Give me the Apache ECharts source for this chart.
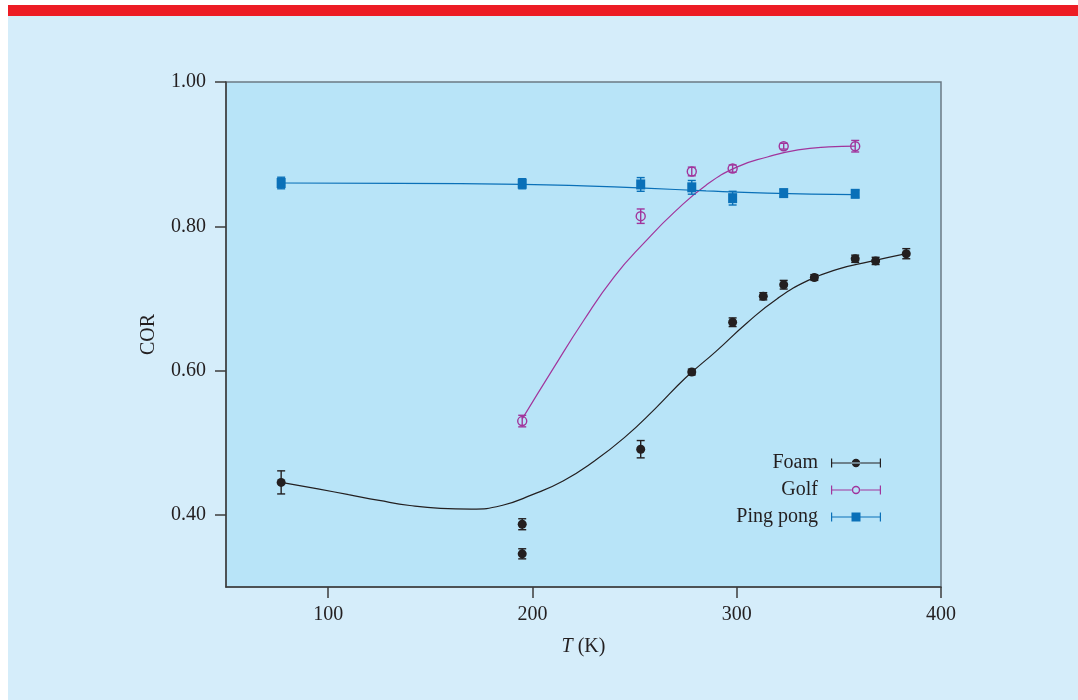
<!DOCTYPE html>
<html>
<head>
<meta charset="utf-8">
<script src="https://cdn.jsdelivr.net/npm/echarts@6/dist/echarts.min.js"></script>
<style>
html,body{margin:0;padding:0;background:#ffffff;}
#chart{width:1078px;height:700px;}
</style>
</head>
<body>
<div id="chart"></div>
<script>
// ---- data ----
var xTicks = [100, 200, 300, 400];
var yTicks = [0.40, 0.60, 0.80, 1.00];

var foamT   = [77, 195, 195, 253, 278, 298, 313, 323, 338, 358, 368, 383];
var foamCOR = [0.445, 0.387, 0.346, 0.491, 0.598, 0.667, 0.703, 0.719, 0.729, 0.755, 0.752, 0.762];
var foamErr = [0.016, 0.0076, 0.007, 0.012, 0.004, 0.006, 0.005, 0.006, 0.004, 0.005, 0.005, 0.007];

var golfT   = [195, 253, 278, 298, 323, 358];
var golfCOR = [0.530, 0.814, 0.876, 0.880, 0.911, 0.911];
var golfErr = [0.008, 0.010, 0.006, 0.005, 0.004, 0.008];

var ppT   = [77, 195, 253, 278, 298, 323, 358];
var ppCOR = [0.860, 0.859, 0.858, 0.854, 0.839, 0.846, 0.845];
var ppErr = [0.008, 0.007, 0.0095, 0.0095, 0.0095, 0.005, 0.005];

// fitted curves
var foamFitT = [77, 95, 110, 125, 140, 155, 170, 185, 200, 215, 230, 245, 260, 275, 290, 305, 320, 335, 350, 365, 383];
var foamFitV = [0.445, 0.436, 0.428, 0.420, 0.413, 0.409, 0.408, 0.413, 0.428, 0.447, 0.474, 0.507, 0.547, 0.590, 0.627, 0.666, 0.700, 0.725, 0.741, 0.751, 0.762];
var golfFitT = [195, 210, 225, 240, 255, 270, 285, 300, 315, 330, 345, 358];
var golfFitV = [0.533, 0.602, 0.669, 0.730, 0.778, 0.821, 0.857, 0.882, 0.896, 0.906, 0.910, 0.911];
var ppFitT = [77, 135, 195, 225, 255, 285, 315, 358];
var ppFitV = [0.860, 0.8595, 0.858, 0.856, 0.853, 0.849, 0.846, 0.844];

var names = ['Foam', 'Golf', 'Ping pong'];
var colors = {Foam: '#231f20', Golf: '#a1359c', 'Ping pong': '#0a70b8'};

function pairs(a, b) { return a.map(function (v, i) { return [v, b[i]]; }); }
function errData(t, v, e) { return t.map(function (x, i) { return [x, v[i] - e[i], v[i] + e[i]]; }); }

function errRender(color) {
  return function (params, api) {
    var lo = api.coord([api.value(0), api.value(1)]);
    var hi = api.coord([api.value(0), api.value(2)]);
    var hw = 4;
    var st = {stroke: color, lineWidth: 1.4};
    return {
      type: 'group',
      children: [
        {type: 'line', shape: {x1: lo[0], y1: lo[1], x2: hi[0], y2: hi[1]}, style: st},
        {type: 'line', shape: {x1: lo[0] - hw, y1: lo[1], x2: lo[0] + hw, y2: lo[1]}, style: st},
        {type: 'line', shape: {x1: hi[0] - hw, y1: hi[1], x2: hi[0] + hw, y2: hi[1]}, style: st}
      ]
    };
  };
}

var FONT = 'Liberation Serif';
var TXT = '#231f20';

var foamIcon = 'path://M0,4.4h50v1.2h-50z M0,0.5h1.2v9h-1.2z M48.8,0.5h1.2v9h-1.2z M20.8,5a4.2,4.2 0 1,0 8.4,0a4.2,4.2 0 1,0 -8.4,0z';
var golfIcon = 'path://M0,4.4h21v1.2h-21z M29,4.4h21v1.2h-21z M0,0.5h1.2v9h-1.2z M48.8,0.5h1.2v9h-1.2z M20.8,5a4.2,4.2 0 1,0 8.4,0a4.2,4.2 0 1,0 -8.4,0z M22.2,5a2.8,2.8 0 1,1 5.6,0a2.8,2.8 0 1,1 -5.6,0z';
var ppIcon = 'path://M0,4.4h50v1.2h-50z M0,0.5h1.2v9h-1.2z M48.8,0.5h1.2v9h-1.2z M20.5,0.5h9v9h-9z';
var icons = {Foam: foamIcon, Golf: golfIcon, 'Ping pong': ppIcon};

function fitSeries(name, t, v) {
  return {
    name: name, type: 'line', data: pairs(t, v), smooth: 0.5,
    showSymbol: false, symbol: 'none',
    lineStyle: {color: colors[name], width: 1.2}, z: 2, silent: true
  };
}
function errSeries(name, t, v, e) {
  return {
    name: name, type: 'custom', data: errData(t, v, e), renderItem: errRender(colors[name]),
    encode: {x: 0, y: [1, 2]}, z: 3, silent: true
  };
}

var chart = echarts.init(document.getElementById('chart'), null, {renderer: 'canvas'});
chart.setOption({
  animation: false,
  backgroundColor: '#ffffff',
  textStyle: {fontFamily: FONT, color: TXT},
  graphic: [
    {type: 'rect', z: -10, shape: {x: 8, y: 16, width: 1070, height: 684}, style: {fill: '#d5edfa'}},
    {type: 'rect', z: -10, shape: {x: 8, y: 5, width: 1070, height: 11}, style: {fill: '#ed1c24'}}
  ],
  grid: {
    left: 226, right: 137, top: 82, bottom: 113,
    show: true, backgroundColor: '#b8e4f8', borderColor: '#6b7a84', borderWidth: 1.5
  },
  legend: {
    orient: 'vertical', align: 'right', right: 192, top: 448,
    itemWidth: 50, itemHeight: 10, itemGap: 7,
    selectedMode: false,
    textStyle: {fontFamily: FONT, fontSize: 20, color: TXT, padding: [0, 8, 0, 0]},
    data: names.map(function (n) {
      return {name: n, icon: icons[n], itemStyle: {color: colors[n], borderWidth: 0, opacity: 1}};
    })
  },
  xAxis: {
    type: 'value', min: 50, max: 400,
    name: '{i|T} (K)', nameLocation: 'middle', nameGap: 50,
    nameTextStyle: {fontFamily: FONT, fontSize: 20, color: TXT,
      rich: {i: {fontFamily: FONT, fontStyle: 'italic', fontSize: 20, color: TXT}}},
    axisLine: {show: true, lineStyle: {color: '#3d3d3d', width: 1.5}},
    axisTick: {show: true, inside: false, length: 11, customValues: xTicks, lineStyle: {color: '#3d3d3d', width: 1.5}},
    axisLabel: {customValues: xTicks, margin: 18, fontFamily: FONT, fontSize: 20, color: TXT},
    splitLine: {show: false}
  },
  yAxis: {
    type: 'value', min: 0.30, max: 1.00,
    name: 'COR', nameLocation: 'middle', nameGap: 67, nameRotate: 90,
    nameTextStyle: {fontFamily: FONT, fontSize: 20, color: TXT},
    axisLine: {show: true, lineStyle: {color: '#3d3d3d', width: 1.5}},
    axisTick: {show: true, inside: false, length: 11, customValues: yTicks, lineStyle: {color: '#3d3d3d', width: 1.5}},
    axisLabel: {customValues: yTicks, margin: 20, fontFamily: FONT, fontSize: 20, color: TXT,
      formatter: function (v) { return v.toFixed(2); }},
    splitLine: {show: false}
  },
  series: [
    {name: 'Foam', type: 'scatter', data: pairs(foamT, foamCOR), symbol: 'circle', symbolSize: 9,
      itemStyle: {color: colors.Foam, opacity: 1}, z: 4},
    {name: 'Golf', type: 'scatter', data: pairs(golfT, golfCOR), symbol: 'circle', symbolSize: 9,
      itemStyle: {color: 'rgba(0,0,0,0)', borderColor: colors.Golf, borderWidth: 1.4, opacity: 1}, z: 4},
    {name: 'Ping pong', type: 'scatter', data: pairs(ppT, ppCOR), symbol: 'rect', symbolSize: [9, 10],
      itemStyle: {color: colors['Ping pong'], opacity: 1}, z: 4},
    errSeries('Foam', foamT, foamCOR, foamErr),
    errSeries('Golf', golfT, golfCOR, golfErr),
    errSeries('Ping pong', ppT, ppCOR, ppErr),
    fitSeries('Foam', foamFitT, foamFitV),
    fitSeries('Golf', golfFitT, golfFitV),
    fitSeries('Ping pong', ppFitT, ppFitV)
  ]
});
</script>
</body>
</html>
